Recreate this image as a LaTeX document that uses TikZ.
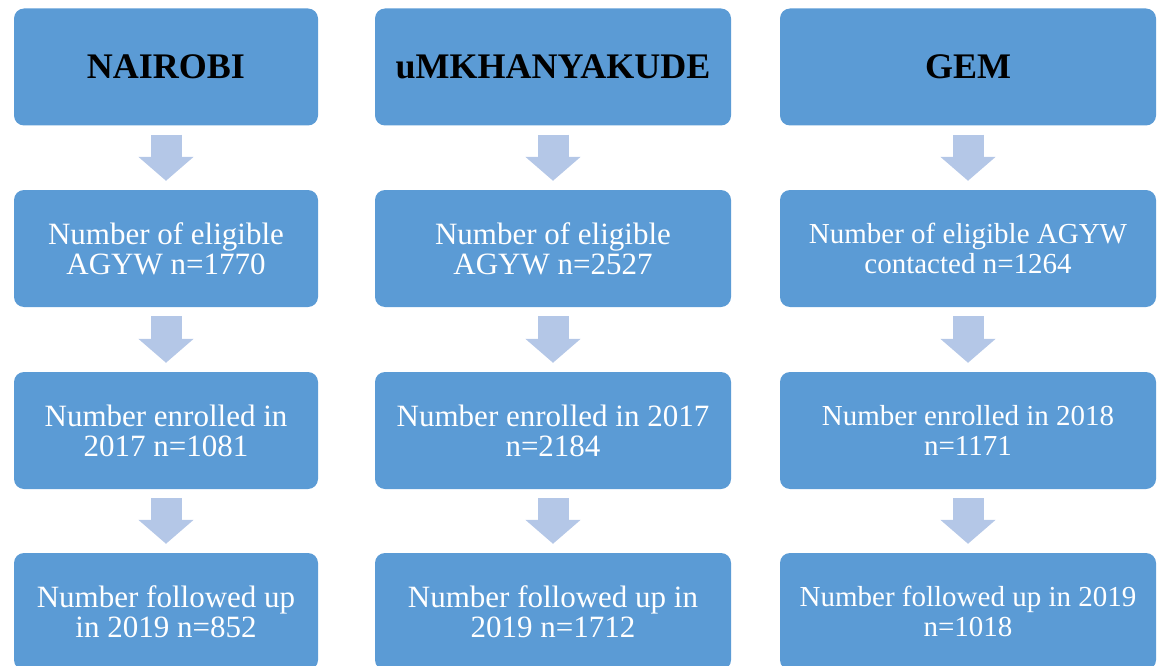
\documentclass[tikz,border=0pt]{standalone}
\usepackage{fontspec}
\setmainfont{Liberation Serif}
\usetikzlibrary{arrows.meta}
\definecolor{boxblue}{HTML}{5B9BD5}
\definecolor{arrowblue}{HTML}{B4C7E7}

\begin{document}
\begin{tikzpicture}[
    x=1pt, y=-1pt,
    sitebox/.style={rectangle, rounded corners=10pt, fill=boxblue, inner sep=0pt, minimum height=117pt, align=center},
    headnode/.style={sitebox, font=\fontsize{36}{36}\selectfont\bfseries, text=black},
    countnode/.style={sitebox, font=\fontsize{31}{30}\selectfont, text=white},
    flow/.style={-{Triangle[width=54pt, length=24pt]}, line width=31pt, draw=arrowblue, shorten <=9pt, shorten >=9pt}
]
    \clip (0,0) rectangle (1162,666);

    % Nairobi column
    \node[headnode, minimum width=304pt] (nairobi) at (166,67) {NAIROBI};
    \node[countnode, minimum width=304pt] (nairobiElig) at (166,248.5) {Number of eligible\\AGYW n=1770};
    \node[countnode, minimum width=304pt] (nairobiEnrol) at (166,430.5) {Number enrolled in\\2017 n=1081};
    \node[countnode, minimum width=304pt] (nairobiFollow) at (166,611.5) {Number followed up\\in 2019 n=852};

    % uMkhanyakude column
    \node[headnode, minimum width=356pt] (umk) at (553,67) {uMKHANYAKUDE};
    \node[countnode, minimum width=356pt] (umkElig) at (553,248.5) {Number of eligible\\AGYW n=2527};
    \node[countnode, minimum width=356pt] (umkEnrol) at (553,430.5) {Number enrolled in 2017\\n=2184};
    \node[countnode, minimum width=356pt] (umkFollow) at (553,611.5) {Number followed up in\\2019 n=1712};

    % GEM column
    \node[headnode, minimum width=376pt] (gem) at (968,67) {GEM};
    \node[countnode, minimum width=376pt, font=\fontsize{29}{30}\selectfont] (gemElig) at (968,248.5) {Number of eligible AGYW\\contacted n=1264};
    \node[countnode, minimum width=376pt, font=\fontsize{29}{30}\selectfont] (gemEnrol) at (968,430.5) {Number enrolled in 2018\\n=1171};
    \node[countnode, minimum width=376pt, font=\fontsize{29}{30}\selectfont] (gemFollow) at (968,611.5) {Number followed up in 2019\\n=1018};

    % Block arrows
    \draw[flow] (nairobi) -- (nairobiElig);
    \draw[flow] (nairobiElig) -- (nairobiEnrol);
    \draw[flow] (nairobiEnrol) -- (nairobiFollow);
    \draw[flow] (umk) -- (umkElig);
    \draw[flow] (umkElig) -- (umkEnrol);
    \draw[flow] (umkEnrol) -- (umkFollow);
    \draw[flow] (gem) -- (gemElig);
    \draw[flow] (gemElig) -- (gemEnrol);
    \draw[flow] (gemEnrol) -- (gemFollow);
\end{tikzpicture}
\end{document}
